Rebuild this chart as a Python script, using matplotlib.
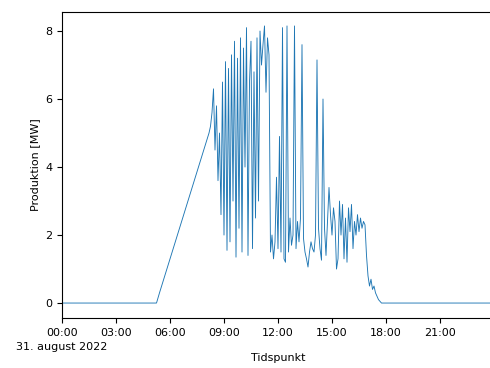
import matplotlib
matplotlib.use("Agg")
import matplotlib.pyplot as plt
import matplotlib.dates as mdates
import pandas as pd

day = "2022-08-31"

# sparse points (night and morning ramp)
sparse_times = ["00:00", "05:15", "05:25", "08:10"]
sparse_values = [0.0, 0.0, 0.3, 5.0]

# 5-minute readings from 08:15 to 17:50
dense_start = "08:15"
dense_values = [
    5.2, 5.6, 6.3, 4.5, 5.8, 3.6, 5.0, 2.6, 6.5,
    2.0, 7.1, 1.55, 6.9, 1.8, 7.3, 3.0, 7.7, 1.35, 7.2, 2.2, 7.8,
    1.5, 7.5, 4.0, 8.1, 1.4, 6.5, 7.7, 1.6, 6.8, 2.5, 7.8, 3.0,
    8.0, 7.0, 7.6, 8.15, 6.2, 7.8, 7.3, 1.5, 2.0, 1.3, 1.8, 3.7,
    1.6, 4.9, 1.5, 8.1, 1.3, 1.2, 8.15, 1.5, 2.5, 1.7, 2.0, 8.15,
    1.6, 2.4, 1.8, 2.5, 7.6, 1.9, 1.5, 1.3, 1.06, 1.5, 1.8, 1.6,
    1.5, 2.0, 7.15, 2.2, 1.6, 1.26, 6.0, 2.2, 1.4, 2.4, 3.4, 2.6,
    2.0, 2.8, 2.4, 1.0, 1.3, 3.0, 2.0, 2.9, 1.3, 2.5, 1.2, 2.8,
    2.1, 2.9, 1.6, 2.4, 2.0, 2.6, 2.1, 2.5, 2.2, 2.4, 2.3, 1.4,
    0.8, 0.5, 0.7, 0.4, 0.5, 0.3, 0.2, 0.1, 0.05, 0.0, 0.0,
]

end_times = ["23:55"]
end_values = [0.0]

tick_labels = ["00:00", "03:00", "06:00", "09:00",
               "12:00", "15:00", "18:00", "21:00"]
date_label = "31. august 2022"

t_sparse = pd.to_datetime([f"{day} {t}" for t in sparse_times])
t_dense = pd.date_range(f"{day} {dense_start}", periods=len(dense_values), freq="5min")
t_end = pd.to_datetime([f"{day} {t}" for t in end_times])
times = t_sparse.append(t_dense).append(t_end)
values = sparse_values + dense_values + end_values

fig = plt.figure(figsize=(4.9, 3.68), dpi=100)
ax = fig.add_axes([62 / 490, 50 / 368, 432 / 490, 306 / 368])
ax.plot(times, values, color="#1f77b4", lw=0.65)

ax.set_xlim(pd.Timestamp(f"{day} 00:00"), pd.Timestamp(f"{day} 00:00") + pd.Timedelta(hours=24))
ax.set_ylim(-0.44, 8.56)
ticks = pd.date_range(f"{day} 00:00", periods=len(tick_labels), freq="3h")
ax.set_xticks(mdates.date2num(ticks.to_pydatetime()))
ax.set_xticklabels(tick_labels, fontsize=8)
ax.set_yticks([0, 2, 4, 6, 8])
ax.tick_params(axis="y", labelsize=8)
ax.annotate(date_label, xy=(0, 0), xycoords="axes fraction",
            xytext=(0, -21), textcoords="offset points",
            ha="center", va="center", fontsize=8)
ax.set_xlabel("Tidspunkt", fontsize=8, labelpad=11)
ax.set_ylabel("Produktion [MW]", fontsize=8)

fig.savefig("out.png", dpi=100)
